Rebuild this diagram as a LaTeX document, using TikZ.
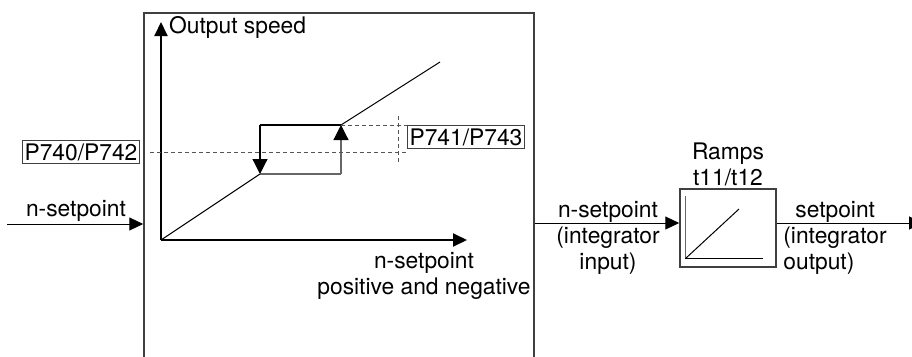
\documentclass[tikz,border=0pt]{standalone}
\usepackage{fontspec}
\setmainfont{TeX Gyre Heros}
\usetikzlibrary{arrows.meta,positioning,calc}
\definecolor{linec}{HTML}{404040}
\definecolor{dashc}{HTML}{555555}
\tikzset{
  lbl/.style={font=\fontsize{22.8}{26}\selectfont, inner sep=1pt, align=center},
  parbox/.style={lbl, draw=linec, line width=1pt, inner sep=2.5pt},
  arr/.style={-{Triangle[length=14pt, width=13pt]}, line width=1pt},
  axis/.style={-{Triangle[length=14pt, width=13pt]}, line width=2pt},
  hyst/.style={line width=1.2pt},
  harr/.style={-{Triangle[length=15pt, width=15pt, color=black, fill=black]}},
  guide/.style={draw=dashc, dashed, dash pattern=on 4pt off 3pt, line width=1pt},
}
\begin{document}
\begin{tikzpicture}[x=1pt, y=-1pt]
  \clip (0,0) rectangle (912,356);
  % frames
  \node[draw=linec, line width=1.5pt, minimum width=390pt, minimum height=367pt, inner sep=0pt] (frame) at (339,196.5) {};
  \node[draw=linec, line width=1.5pt, minimum width=96pt, minimum height=78pt, inner sep=0pt] (ramp) at (728,228) {};
  \coordinate (sig) at (0,223);
  % characteristic
  \coordinate (o) at (161,240);
  \coordinate (ytip) at (161,22);
  \coordinate (xtip) at (467,240);
  \coordinate (lo1) at (260,174);
  \coordinate (lo2) at (341,174);
  \coordinate (hi1) at (260,125);
  \coordinate (hi2) at (341,125);
  \coordinate (top) at (440,62);
  \draw[axis] (o) -- (ytip);
  \draw[axis] (o) -- (xtip);
  \node[lbl, anchor=west] (ylab) at (168,27) {Output speed};
  \node[lbl] (xlab) at (424,276) {n-setpoint\\positive and negative};
  \draw[line width=1pt] (o) -- (lo1);
  \draw[line width=1pt] (hi2) -- (top);
  \draw[hyst, draw=linec!80] (lo1) -- (lo2);
  \draw[hyst, draw=linec!80, harr] (lo2) -- (hi2);
  \draw[hyst] (hi2) -- (hi1);
  \draw[hyst, harr] (hi1) -- (lo1);
  % switching levels
  \node[parbox] (off) at (81,152) {P740/P742};
  \node[parbox] (on) at (466,137) {P741/P743};
  \draw[guide] (150,152) -- (on.west |- 0,152);
  \draw[guide] (hi2) -- (on.west |- hi2);
  \draw[guide] (398,116) -- (398,162);
  % signal path
  \coordinate (src) at (7,224);
  \draw[arr] (src) -- (frame.west |- src);
  \node[lbl] (inlab) at (76,211) {n-setpoint};
  \draw[arr] (frame.east |- sig) -- (ramp.west |- sig);
  \node[lbl] (intlab) at (608,238) {n-setpoint\\(integrator\\input)};
  \node[lbl, above=1pt of ramp] (ramplab) {Ramps\\t11/t12};
  \draw[line width=1.5pt, draw=linec!80] ($(ramp.north west)+(6,8)$) -- ($(ramp.south west)+(6,-9)$);
  \draw[line width=1pt] ($(ramp.south west)+(6,-9)$) -- ($(ramp.south east)+(-14,-9)$);
  \draw[line width=1pt] ($(ramp.south west)+(6,-9)$) -- (739,209);
  \draw[arr] (ramp.east |- sig) -- (923,223);
  \node[lbl, align=left] (outlab) at (835,238) {\hspace*{12pt}setpoint\\(integrator\\output)};
\end{tikzpicture}
\end{document}
